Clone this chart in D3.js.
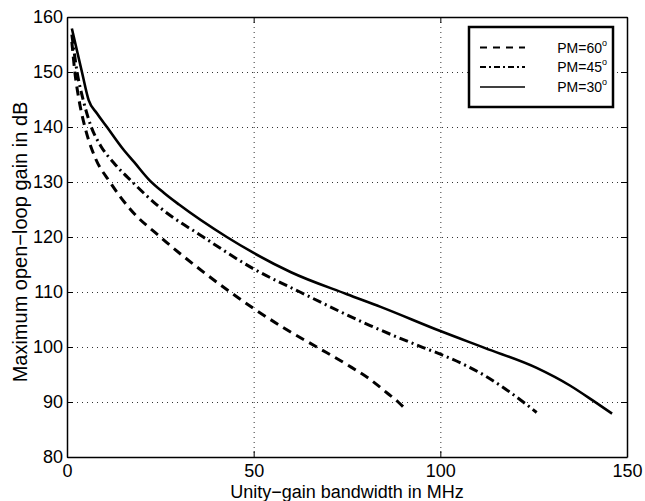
<!DOCTYPE html>
<html>
<head>
<meta charset="utf-8">
<script src="https://cdn.jsdelivr.net/npm/d3@7"></script>
<style>
  html, body { margin: 0; padding: 0; background: #fff; }
  svg { display: block; font-family: "Liberation Sans", Arial, Helvetica, sans-serif; }
</style>
</head>
<body>
<svg id="chart" width="645" height="501"></svg>
<script>
// ---- data ----
const xTicks = [0, 50, 100, 150];
const yTicks = [80, 90, 100, 110, 120, 130, 140, 150, 160];
const seriesNames = ["PM=60", "PM=45", "PM=30"];

const pm60X = [1.3, 2.1, 3.2, 4.8, 7.5, 11.5, 17, 25, 34.7, 43.7, 50, 58, 66.9, 75, 81.2, 86, 88.7, 90.7];
const pm60Y = [155.5, 150, 145, 140, 134.5, 130, 125, 120, 114.6, 110, 107, 103.5, 100, 96.8, 94.1, 91.5, 90, 88.7];

const pm45X = [1.3, 2.7, 4.5, 6.5, 9, 12.5, 17.5, 25, 36.5, 50, 62.4, 81.2, 95.4, 100, 112.4, 122.2, 125.8];
const pm45Y = [156.8, 150, 144.5, 140, 136.6, 133.5, 130, 125.3, 120, 114.2, 110, 103.9, 99.9, 98.7, 94.6, 90, 88.1];

const pm30X = [1.3, 4, 5.8, 8, 10.7, 15, 18, 22, 26, 30, 42.8, 50, 60, 75, 84, 100, 112, 125.8, 134.7, 141, 146];
const pm30Y = [157.9, 150, 144.9, 142.5, 140, 136.0, 133.6, 130.4, 128.0, 125.9, 120, 117.1, 113.6, 109.6, 107.3, 102.9, 99.8, 96.2, 93, 90.2, 87.9];

// ---- layout ----
const svg = d3.select("#chart");
const L = 67, R = 627, T = 17, B = 457;
const x = d3.scaleLinear().domain([0, 150]).range([L, R]);
const y = d3.scaleLinear().domain([80, 160]).range([B, T]);

// grid
const grid = svg.append("g").attr("stroke", "#333").attr("stroke-width", 1)
  .attr("stroke-dasharray", "1,4");
grid.selectAll("line.h").data(yTicks.filter(d => d > 80 && d < 160)).join("line")
  .attr("x1", L).attr("x2", R).attr("y1", d => y(d) + 0.5).attr("y2", d => y(d) + 0.5);
grid.selectAll("line.v").data(xTicks.filter(d => d > 0 && d < 150)).join("line")
  .attr("y1", T).attr("y2", B).attr("x1", d => x(d) + 0.5).attr("x2", d => x(d) + 0.5);

// axes (MATLAB-style box with inward ticks)
const tickLen = 6;
const axB = svg.append("g").attr("transform", `translate(0,${B})`)
  .call(d3.axisBottom(x).tickValues(xTicks).tickSizeInner(-tickLen).tickSizeOuter(0).tickPadding(7));
const axT = svg.append("g").attr("transform", `translate(0,${T})`)
  .call(d3.axisTop(x).tickValues(xTicks).tickSizeInner(-tickLen).tickSizeOuter(0).tickFormat(""));
const axL = svg.append("g").attr("transform", `translate(${L},0)`)
  .call(d3.axisLeft(y).tickValues(yTicks).tickSizeInner(-tickLen).tickSizeOuter(0).tickPadding(4));
const axR = svg.append("g").attr("transform", `translate(${R},0)`)
  .call(d3.axisRight(y).tickValues(yTicks).tickSizeInner(-tickLen).tickSizeOuter(0).tickFormat(""));
[axB, axT, axL, axR].forEach(a => {
  a.selectAll("path").attr("stroke", "#000").attr("stroke-width", 1.5);
  a.selectAll("line").attr("stroke", "#000").attr("stroke-width", 1);
  a.selectAll("text").attr("fill", "#000").attr("font-size", 18)
    .attr("font-family", "'Liberation Sans', Arial, sans-serif");
});

// curves
const line = d3.line().x(d => x(d[0])).y(d => y(d[1])).curve(d3.curveMonotoneX);
const styles = [
  { xs: pm60X, ys: pm60Y, dash: "9,6", w: 3 },
  { xs: pm45X, ys: pm45Y, dash: "9,4,2,4", w: 3 },
  { xs: pm30X, ys: pm30Y, dash: null, w: 2.6 }
];
styles.forEach(s => {
  const pts = s.xs.map((v, i) => [v, s.ys[i]]);
  svg.append("path").datum(pts).attr("d", line)
    .attr("fill", "none").attr("stroke", "#000").attr("stroke-width", s.w)
    .attr("stroke-dasharray", s.dash);
});

// axis labels
svg.append("text").attr("x", (L + R) / 2).attr("y", 497.5).attr("text-anchor", "middle")
  .attr("font-size", 18).attr("fill", "#000").text("Unity\u2212gain bandwidth in MHz");
svg.append("text").attr("transform", `translate(27,${(T + B) / 2 + 5}) rotate(-90)`)
  .attr("text-anchor", "middle").attr("font-size", 20).attr("fill", "#000")
  .text("Maximum open\u2212loop gain in dB");

// legend
const lg = svg.append("g");
lg.append("rect").attr("x", 469).attr("y", 27).attr("width", 144).attr("height", 80)
  .attr("fill", "#fff").attr("stroke", "#000").attr("stroke-width", 2.5);
const rowY = [47.5, 67, 87];
styles.forEach((s, i) => {
  lg.append("line").attr("x1", 480).attr("x2", 525).attr("y1", rowY[i]).attr("y2", rowY[i])
    .attr("stroke", "#000").attr("stroke-width", i === 2 ? 1.5 : 1.8)
    .attr("stroke-dasharray", i === 0 ? "7,6" : i === 1 ? "6,3,2,3" : null);
  const t = lg.append("text").attr("x", 607).attr("y", rowY[i] + 5).attr("text-anchor", "end")
    .attr("font-size", 14).attr("fill", "#000");
  t.append("tspan").text(seriesNames[i]);
  t.append("tspan").attr("font-size", 9).attr("dy", -7).text("o");
});
</script>
</body>
</html>
